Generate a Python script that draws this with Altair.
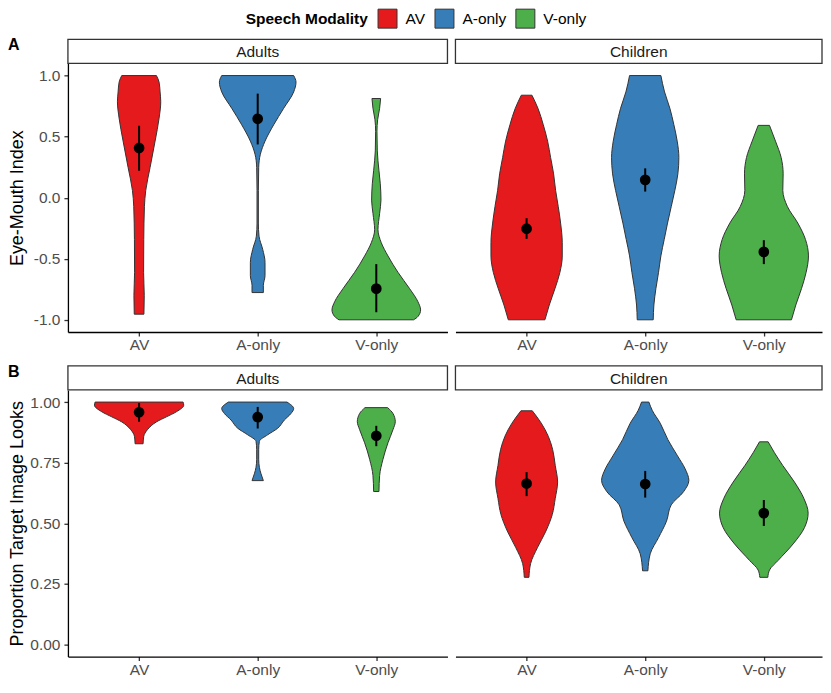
import altair as alt
import pandas as pd

# ---------------- data ----------------
MODALITIES = ["AV", "A-only", "V-only"]
MODALITY_COLORS = ["#E41A1C", "#377EB8", "#4DAF4A"]
GROUPS = ["Adults", "Children"]
PANEL_LETTERS = ["A", "B"]
Y_TITLES = ["Eye-Mouth Index", "Proportion Target Image Looks"]

# Violin outlines: y levels and half-width readings (relative density width)
# Panel A (Eye-Mouth Index) - Adults
A_ADULTS_AV_Y = [1.0, 0.946, 0.866, 0.785, 0.651, 0.463, 0.248, 0.060, -0.074, -0.342, -0.611, -0.799, -0.954]
A_ADULTS_AV_W = [52, 60, 63, 65, 60, 48, 33, 20, 16, 14, 13.5, 15.5, 14.5]
A_ADULTS_AONLY_Y = [1.0, 0.946, 0.866, 0.732, 0.597, 0.463, 0.356, 0.248, 0.060, -0.208, -0.315, -0.423, -0.530, -0.638, -0.718, -0.777]
A_ADULTS_AONLY_W = [108, 115, 108, 78, 48, 22, 8, 3, 2, 2, 4, 15, 22, 22, 17, 17]
A_ADULTS_VONLY_Y = [0.812, 0.732, 0.638, 0.544, 0.383, 0.221, 0.114, -0.020, -0.128, -0.262, -0.369, -0.477, -0.611, -0.745, -0.852, -0.919, -0.973, -1.0]
A_ADULTS_VONLY_W = [13, 10, 4, 2, 3, 8, 12, 14, 10, 5, 15, 35, 65, 100, 125, 133, 125, 112]
# Panel A - Children
A_CHILD_AV_Y = [0.839, 0.732, 0.597, 0.463, 0.329, 0.195, 0.060, -0.074, -0.208, -0.369, -0.477, -0.611, -0.745, -0.879, -1.0]
A_CHILD_AV_W = [16, 34, 50, 63, 72, 81, 87, 95, 102, 107, 107, 100, 85, 68, 55]
A_CHILD_AONLY_Y = [1.0, 0.866, 0.732, 0.597, 0.463, 0.329, 0.195, 0.060, -0.074, -0.208, -0.342, -0.477, -0.611, -0.745, -0.879, -1.0]
A_CHILD_AONLY_W = [47, 58, 74, 86, 96, 101, 98, 89, 78, 67, 57, 47, 40, 32, 26, 24]
A_CHILD_VONLY_Y = [0.592, 0.463, 0.329, 0.195, 0.060, -0.074, -0.208, -0.342, -0.477, -0.611, -0.745, -0.879, -1.0]
A_CHILD_VONLY_W = [17, 35, 52, 58, 57, 71, 102, 125, 134, 127, 113, 96, 83]
# Panel B (Proportion Target Image Looks) - Adults
B_ADULTS_AV_Y = [1.0, 0.987, 0.960, 0.939, 0.919, 0.886, 0.859, 0.828]
B_ADULTS_AV_W = [132, 134, 112, 82, 53, 25, 14, 12]
B_ADULTS_AONLY_Y = [1.0, 0.973, 0.953, 0.926, 0.892, 0.865, 0.838, 0.805, 0.764, 0.731, 0.704, 0.676]
B_ADULTS_AONLY_W = [88, 108, 100, 80, 60, 30, 5, 3, 3, 5, 10, 17]
B_ADULTS_VONLY_Y = [0.977, 0.953, 0.919, 0.886, 0.832, 0.764, 0.697, 0.631]
B_ADULTS_VONLY_W = [34, 50, 57, 50, 35, 20, 10, 8]
# Panel B - Children
B_CHILD_AV_Y = [0.964, 0.913, 0.859, 0.805, 0.738, 0.670, 0.603, 0.536, 0.468, 0.401, 0.334, 0.277]
B_CHILD_AV_W = [17, 44, 65, 78, 86, 93, 86, 77, 58, 33, 12, 7]
B_CHILD_AONLY_Y = [1.0, 0.966, 0.913, 0.845, 0.778, 0.724, 0.677, 0.630, 0.576, 0.509, 0.441, 0.374, 0.304]
B_CHILD_AONLY_W = [11, 21, 45, 68, 97, 120, 131, 115, 78, 64, 40, 15, 8]
B_CHILD_VONLY_Y = [0.836, 0.791, 0.738, 0.670, 0.603, 0.542, 0.482, 0.415, 0.347, 0.307, 0.277]
B_CHILD_VONLY_W = [13, 32, 57, 92, 120, 133, 122, 88, 43, 17, 12]

# Means and 95% CI (modality order)
A_ADULTS_MEAN = [0.407, 0.646, -0.745]
A_ADULTS_LO = [0.221, 0.436, -0.938]
A_ADULTS_HI = [0.589, 0.852, -0.544]
A_CHILD_MEAN = [-0.254, 0.146, -0.444]
A_CHILD_LO = [-0.337, 0.050, -0.544]
A_CHILD_HI = [-0.168, 0.240, -0.348]
B_ADULTS_MEAN = [0.958, 0.938, 0.861]
B_ADULTS_LO = [0.919, 0.891, 0.818]
B_ADULTS_HI = [0.996, 0.980, 0.902]
B_CHILD_MEAN = [0.664, 0.662, 0.542]
B_CHILD_LO = [0.612, 0.606, 0.489]
B_CHILD_HI = [0.711, 0.716, 0.596]

VIOLINS = {
    ("A", "Adults"): [(A_ADULTS_AV_Y, A_ADULTS_AV_W), (A_ADULTS_AONLY_Y, A_ADULTS_AONLY_W), (A_ADULTS_VONLY_Y, A_ADULTS_VONLY_W)],
    ("A", "Children"): [(A_CHILD_AV_Y, A_CHILD_AV_W), (A_CHILD_AONLY_Y, A_CHILD_AONLY_W), (A_CHILD_VONLY_Y, A_CHILD_VONLY_W)],
    ("B", "Adults"): [(B_ADULTS_AV_Y, B_ADULTS_AV_W), (B_ADULTS_AONLY_Y, B_ADULTS_AONLY_W), (B_ADULTS_VONLY_Y, B_ADULTS_VONLY_W)],
    ("B", "Children"): [(B_CHILD_AV_Y, B_CHILD_AV_W), (B_CHILD_AONLY_Y, B_CHILD_AONLY_W), (B_CHILD_VONLY_Y, B_CHILD_VONLY_W)],
}
SUMMARY = {
    ("A", "Adults"): (A_ADULTS_MEAN, A_ADULTS_LO, A_ADULTS_HI),
    ("A", "Children"): (A_CHILD_MEAN, A_CHILD_LO, A_CHILD_HI),
    ("B", "Adults"): (B_ADULTS_MEAN, B_ADULTS_LO, B_ADULTS_HI),
    ("B", "Children"): (B_CHILD_MEAN, B_CHILD_LO, B_CHILD_HI),
}

WIDTH_SCALE = 1 / 356.0  # relative width reading -> category units

violin_rows = []
for (m, g), lst in VIOLINS.items():
    for i, (ys, ws) in enumerate(lst):
        for y, w in zip(ys, ws):
            violin_rows.append({"measure": m, "group": g, "modality": MODALITIES[i],
                                "idx": i + 1, "y": y, "w": w})
violin_df = pd.DataFrame(violin_rows)

summary_rows = []
for (m, g), (means, los, his) in SUMMARY.items():
    for i in range(3):
        summary_rows.append({"measure": m, "group": g, "modality": MODALITIES[i],
                             "idx": i + 1, "mean": means[i], "lo": los[i], "hi": his[i]})
summary_df = pd.DataFrame(summary_rows)

X_LABEL_EXPR = "[" + ",".join("'%s'" % s for s in MODALITIES) + "][datum.value - 1]"

color_enc = alt.Color(
    "modality:N",
    scale=alt.Scale(domain=MODALITIES, range=MODALITY_COLORS),
    legend=alt.Legend(
        title="Speech Modality", orient="none", legendX=178, legendY=-55,
        direction="horizontal", titleOrient="left", titleFontSize=15.5,
        titleFontWeight="bold", titleColor="black", titlePadding=9,
        labelFontSize=15.5, labelColor="black", labelOffset=8, columnPadding=7,
        symbolType="square", symbolSize=361, symbolStrokeColor="#333333",
        symbolStrokeWidth=1, symbolOpacity=1,
    ),
)


def panel(measure, group, letter, show_y, width, height, y_domain, y_ticks,
          y_label_expr, y_title, x_max):
    vdf = violin_df[(violin_df.measure == measure) & (violin_df.group == group)]
    sdf = summary_df[(summary_df.measure == measure) & (summary_df.group == group)]
    xs = alt.Scale(domain=[0.4, x_max], nice=False, zero=False)
    ys = alt.Scale(domain=y_domain, nice=False, zero=False)
    xaxis = alt.Axis(values=[1, 2, 3], labelExpr=X_LABEL_EXPR, title=None,
                     labelPadding=2, grid=False)
    if show_y:
        yaxis = alt.Axis(values=y_ticks, labelExpr=y_label_expr, title=y_title,
                         titleX=-45, titleY=height / 2, titleBaseline="alphabetic",
                         titleAlign="center", titleAngle=270, labelPadding=4, grid=False)
    else:
        yaxis = None

    def Y(f):
        return alt.Y(f, scale=ys, axis=yaxis)

    def X(f):
        return alt.X(f, scale=xs, axis=xaxis)

    hdr_df = pd.DataFrame({"label": [group], "letter": [letter]})
    header_box = alt.Chart(hdr_df).mark_rect(fill="white", stroke="#333333", strokeWidth=1.3).encode(
        x=alt.value(0), x2=alt.value(width), y=alt.value(-24), y2=alt.value(0))
    header_txt = alt.Chart(hdr_df).mark_text(fontSize=15.5, color="#1A1A1A", align="center",
                                             baseline="alphabetic").encode(
        x=alt.value(width / 2), y=alt.value(-6), text="label:N")

    violin = alt.Chart(vdf).transform_calculate(
        xlo="datum.idx - datum.w * %f" % WIDTH_SCALE,
        xhi="datum.idx + datum.w * %f" % WIDTH_SCALE,
    ).mark_area(orient="horizontal", interpolate="monotone", stroke="#333333",
                strokeWidth=1, opacity=1).encode(
        y=Y("y:Q"), x=X("xlo:Q"), x2="xhi:Q", color=color_enc)

    err = alt.Chart(sdf).mark_rule(color="black", strokeWidth=2).encode(
        x=X("idx:Q"), y=Y("lo:Q"), y2="hi:Q")
    pts = alt.Chart(sdf).mark_circle(color="black", size=115, opacity=1).encode(
        x=X("idx:Q"), y=Y("mean:Q"))

    layers = [header_box, header_txt, violin, err, pts]
    if letter:
        letter_txt = alt.Chart(hdr_df).mark_text(fontSize=16, fontWeight="bold", color="black",
                                                 align="left", baseline="alphabetic").encode(
            x=alt.value(-60), y=alt.value(-13), text="letter:N")
        layers.append(letter_txt)
    return alt.layer(*layers).properties(width=width, height=height)


A_LABEL_EXPR = "datum.value < 0 ? '-' + format(-datum.value, '.1f') : format(datum.value, '.1f')"
B_LABEL_EXPR = "format(datum.value, '.2f')"

H_A = 269
H_B = 267
W_L = 380
W_R = 367

pAL = panel("A", "Adults", "A", True, W_L, H_A, [-1.1, 1.1], [-1, -0.5, 0, 0.5, 1],
            A_LABEL_EXPR, Y_TITLES[0], 3.6)
pAR = panel("A", "Children", "", False, W_R, H_A, [-1.1, 1.1], [-1, -0.5, 0, 0.5, 1],
            A_LABEL_EXPR, Y_TITLES[0], 0.4 + 3.2 * W_R / W_L)
pBL = panel("B", "Adults", "B", True, W_L, H_B, [-0.05, 1.05], [0, 0.25, 0.5, 0.75, 1],
            B_LABEL_EXPR, Y_TITLES[1], 3.6)
pBR = panel("B", "Children", "", False, W_R, H_B, [-0.05, 1.05], [0, 0.25, 0.5, 0.75, 1],
            B_LABEL_EXPR, Y_TITLES[1], 0.4 + 3.2 * W_R / W_L)

chart = alt.concat(pAL, pAR, pBL, pBR, columns=2,
                   spacing={"row": 58, "column": 8}, bounds="flush").properties(
    padding=0
).configure(font="Liberation Sans").configure_view(strokeWidth=0).configure_axis(
    labelFontSize=15.5, labelColor="#4D4D4D", titleFontSize=18, titleFontWeight="normal",
    titleColor="black", domainColor="black", domainWidth=1.3, tickColor="#333333",
    tickWidth=1.3, tickSize=4,
)

chart.save("out.html", embed_options={"renderer": "svg", "actions": False})
